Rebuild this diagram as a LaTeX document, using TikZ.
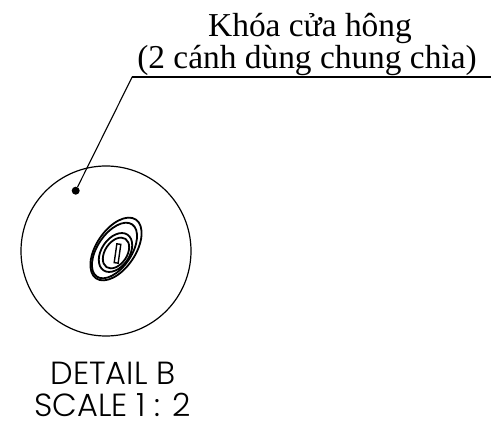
\documentclass[tikz,border=0pt]{standalone}
\usepackage{fontspec}
\setmainfont{Liberation Serif}
\newfontfamily\detailfont{Poppins Light}
\usetikzlibrary{positioning, calc}
\begin{document}
\begin{tikzpicture}[x=1pt,y=-1pt,
  note node/.style={inner sep=0pt,anchor=base,font=\fontsize{33.4}{33}\selectfont},
  caption node/.style={inner sep=0pt,anchor=base,font=\detailfont\fontsize{32}{32}\selectfont},
  dot node/.style={circle,fill=black,inner sep=0pt,minimum size=8pt},
  view node/.style={circle,draw,line width=1.2pt,inner sep=0pt,minimum size=170pt},
  ring/.style={draw,line width=1.8pt,shift={#1},rotate=56}]
  \useasboundingbox (0,0) rectangle (495,430);
  \node[view node] (view) at (106,251) {};
  \node[dot node] (dot) at (75.7,190.7) {};
  \coordinate (bend) at (132.3,76.7);
  \coordinate (end) at (491,76.7);
  \node[note node] (title) at (310,37) {Khóa cửa hông};
  \node[note node] (title2) at (307,69) {(2 cánh dùng chung chìa)};
  \node[caption node] (detail) at (113,384) {DETAIL B};
  \node[caption node] (scale) at (112.5,416) {SCALE 1 : 2};
  \draw[line width=1.1pt] (dot) -- (bend);
  \draw[line width=2pt] (bend) -- (end);
  % lock
  \draw[ring={(116,249)}] (0,0) ellipse [x radius=35.5, y radius=19.5];
  \draw[ring={(114.5,250.5)}] (0,0) ellipse [x radius=31.5, y radius=17];
  \draw[ring={(115.5,252.5)}] (0,0) ellipse [x radius=21.5, y radius=14];
  \draw[ring={(116,253)}] (0,0) ellipse [x radius=17, y radius=11];
  \draw[line width=1.4pt,fill=white,shift={(117.5,253.5)},rotate=82] (-9.5,-2) rectangle (9.5,2);
\end{tikzpicture}
\end{document}
